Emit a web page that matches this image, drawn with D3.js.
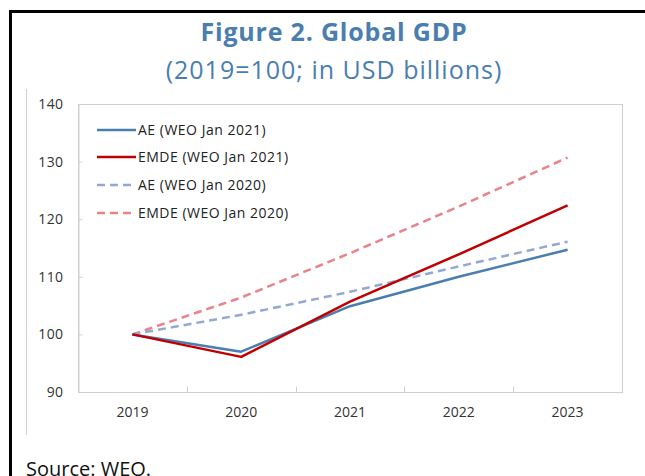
<!DOCTYPE html>
<html>
<head>
<meta charset="utf-8">
<script src="https://cdn.jsdelivr.net/npm/d3@7"></script>
<style>
  html, body { margin: 0; padding: 0; background: #fff; }
  svg { display: block; }
</style>
</head>
<body>
<script>
// Global GDP index, 2019 = 100
const years = ["2019", "2020", "2021", "2022", "2023"];
const aeJan2021   = [100, 97.0, 104.9, 110.0, 114.7];
const emdeJan2021 = [100, 96.1, 105.7, 113.9, 122.4];
const aeJan2020   = [100, 103.4, 107.4, 111.8, 116.1];
const emdeJan2020 = [100, 106.4, 114.1, 122.2, 130.7];
const seriesNames = ["AE (WEO Jan 2021)", "EMDE (WEO Jan 2021)", "AE (WEO Jan 2020)", "EMDE (WEO Jan 2020)"];
const yTicks = [90, 100, 110, 120, 130, 140];

const W = 645, H = 476;
const plot = { left: 78, right: 622, top: 104, bottom: 392 };
const FONT = "'Open Sans', sans-serif";

const series = [
  { name: seriesNames[0], values: aeJan2021,   color: "#4a7eb0", dash: null },
  { name: seriesNames[1], values: emdeJan2021, color: "#c00000", dash: null },
  { name: seriesNames[2], values: aeJan2020,   color: "#94a8d2", dash: "8,5" },
  { name: seriesNames[3], values: emdeJan2020, color: "#e8838a", dash: "8,5" }
];

const svg = d3.select("body").append("svg").attr("width", W).attr("height", H);
svg.append("rect").attr("width", W).attr("height", H).attr("fill", "#fff");

// Frame of the figure box
svg.append("line").attr("x1", 10.5).attr("x2", 10.5).attr("y1", 10).attr("y2", H)
  .attr("stroke", "#000").attr("stroke-width", 3);
svg.append("line").attr("x1", 9).attr("x2", W).attr("y1", 11.5).attr("y2", 11.5)
  .attr("stroke", "#000").attr("stroke-width", 3);
// Chart area edge
svg.append("line").attr("x1", 26.5).attr("x2", 26.5).attr("y1", 89).attr("y2", 435)
  .attr("stroke", "#d0d0d0").attr("stroke-width", 1);

// Titles
svg.append("text").attr("x", 334).attr("y", 41)
  .attr("text-anchor", "middle")
  .attr("font-family", FONT).attr("font-weight", 700)
  .attr("font-size", 25).attr("letter-spacing", 0.8).attr("fill", "#4a7eb0")
  .text("Figure 2. Global GDP");
svg.append("text").attr("x", 334).attr("y", 79)
  .attr("text-anchor", "middle")
  .attr("font-family", FONT)
  .attr("font-size", 25).attr("letter-spacing", 1).attr("fill", "#4a7eb0")
  .text("(2019=100; in USD billions)");

// Scales
const x = d3.scaleBand().domain(years).range([plot.left, plot.right]);
const y = d3.scaleLinear().domain([90, 140]).range([plot.bottom, plot.top]);

// Plot border
svg.append("rect")
  .attr("x", plot.left + 0.5).attr("y", plot.top + 0.5)
  .attr("width", plot.right - plot.left).attr("height", plot.bottom - plot.top)
  .attr("fill", "none").attr("stroke", "#d0d0d0");

// Y axis
const yAxis = svg.append("g").attr("transform", `translate(${plot.left + 0.5},0)`)
  .call(d3.axisLeft(y).tickValues(yTicks).tickSize(-4).tickPadding(15));
yAxis.select(".domain").attr("stroke", "#d0d0d0");
yAxis.selectAll(".tick line").attr("stroke", "#d0d0d0");
yAxis.selectAll(".tick text")
  .attr("font-family", FONT).attr("font-size", 14).attr("letter-spacing", 0.4).attr("fill", "#333");

// X axis: ticks between categories, pointing into the plot
const bounds = years.slice(1).map(yr => x(yr));
const xg = svg.append("g").attr("transform", `translate(0,${plot.bottom + 0.5})`);
xg.selectAll("line.tick").data(bounds).join("line")
  .attr("x1", d => Math.round(d) + 0.5).attr("x2", d => Math.round(d) + 0.5)
  .attr("y1", 0).attr("y2", -6).attr("stroke", "#d0d0d0");
xg.selectAll("text").data(years).join("text")
  .attr("x", d => x(d) + x.bandwidth() / 2).attr("y", 24)
  .attr("text-anchor", "middle")
  .attr("font-family", FONT).attr("font-size", 14).attr("fill", "#333")
  .text(d => d);

// Lines, drawn back to front: dashed projections under the solid ones
const line = d3.line()
  .x((d, i) => x(years[i]) + x.bandwidth() / 2)
  .y(d => y(d));
const drawOrder = [series[3], series[2], series[0], series[1]];
svg.append("g").selectAll("path").data(drawOrder).join("path")
  .attr("d", d => line(d.values))
  .attr("fill", "none")
  .attr("stroke", d => d.color)
  .attr("stroke-width", 2.5)
  .attr("stroke-dasharray", d => d.dash)
  .attr("stroke-linejoin", "round");

// Legend
const leg = svg.append("g");
const rowY = [130, 157, 185, 213];
series.forEach((s, i) => {
  leg.append("line").attr("x1", 97).attr("x2", 136).attr("y1", rowY[i]).attr("y2", rowY[i])
    .attr("stroke", s.color).attr("stroke-width", 2.5).attr("stroke-dasharray", s.dash);
  leg.append("text").attr("x", 138).attr("y", rowY[i] + 5)
    .attr("font-family", FONT).attr("font-size", 14).attr("letter-spacing", 0.5).attr("fill", "#222")
    .text(s.name);
});

// Source note
svg.append("text").attr("x", 26).attr("y", 476)
  .attr("font-family", FONT).attr("font-size", 20).attr("fill", "#111")
  .text("Source: WEO.");
</script>
</body>
</html>
